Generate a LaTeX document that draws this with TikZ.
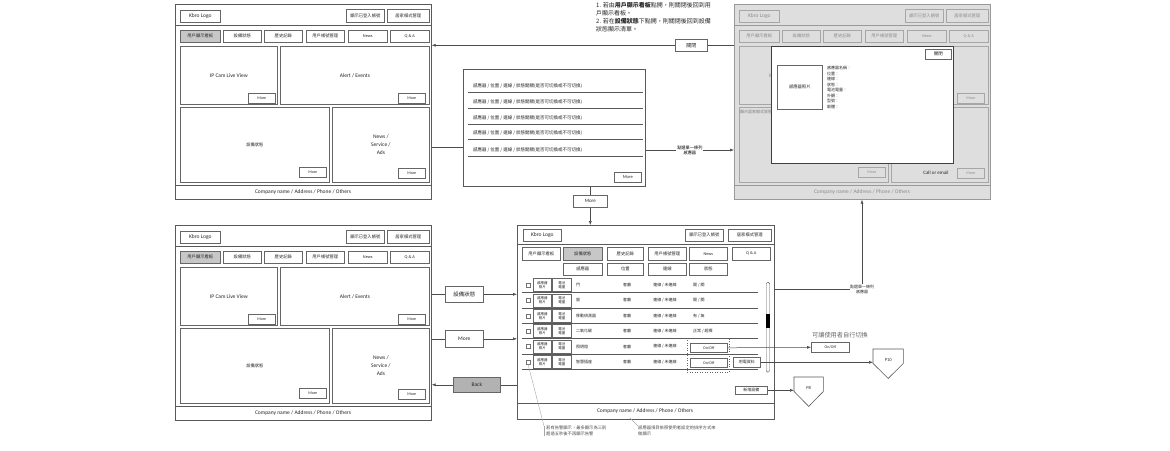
\documentclass[tikz,border=0pt]{standalone}
\usepackage{fontspec}
\setmainfont{Noto Sans CJK TC}
\newfontfamily\lat{Carlito}
\usetikzlibrary{arrows.meta}

\newcommand\fsz[2]{\fontsize{#1}{#2}\selectfont}

\tikzset{
  frame/.style={draw=black!65, fill=white, line width=0.7pt, anchor=north west, inner sep=0pt},
  rule/.style={draw=black!65, line width=0.6pt},
  btn/.style={draw=black!60, fill=white, line width=0.6pt, anchor=north west, inner sep=0pt, text=black!85, font=\fsz{4.3}{5}},
  tabon/.style={fill=black!22},
  panel/.style={draw=black!60, fill=white, line width=0.8pt, anchor=north west, inner sep=0pt, align=center, text=black!85, font=\lat\fsz{5.5}{8}},
  lbl/.style={inner sep=0pt, text=black!85, font=\fsz{5.5}{7}},
  cell/.style={inner sep=0pt, text=black!85, font=\fsz{4}{5}},
  conn/.style={draw=black!70, line width=0.5pt},
  dimmed/.style={
    frame/.append style={fill=black!13, draw=black!40},
    rule/.append style={draw=black!40},
    btn/.append style={fill=black!13, draw=black!35, text=black!45},
    tabon/.append style={fill=black!13},
    panel/.append style={fill=black!13, draw=black!35, text=black!45},
    lbl/.append style={text=black!45}},
}

% one dashboard screen: name prefix, left, top, extra options
\newcommand\kbroscreen[4]{%
  \begin{scope}[shift={(#2,#3)}, #4]
    \node[frame, minimum width=256, minimum height=195] (#1-outer) at (0,0) {};
    \draw[rule] (0,21) -- (256,21);
    \draw[rule] (0,181) -- (256,181);
    \node[btn, font=\lat\fsz{5.5}{6}, minimum width=40, minimum height=12] (#1-logo) at (5,6) {Kbro Logo};
    \node[btn, minimum width=38, minimum height=13] (#1-acct) at (171,5) {顯示已登入帳號};
    \node[btn, minimum width=42, minimum height=13] (#1-home) at (212,5) {居家模式管理};
    \node[btn, tabon, minimum width=40, minimum height=12] (#1-tab1) at (5,26) {用戶顯示看板};
    \foreach \tx/\tw/\tn [count=\i from 2] in {48/38/設備狀態,89/38/歷史記錄,131/38/用戶帳號管理,173/39/{\lat News},215/39/{\lat Q \& A}}
      \node[btn, minimum width=\tw, minimum height=12] (#1-tab\i) at (\tx,26) {\tn};
    \node[panel, minimum width=97, minimum height=58] (#1-cam) at (5,42) {IP Cam Live View};
    \node[panel, minimum width=149, minimum height=58] (#1-alert) at (105,42) {Alert / Events};
    \node[panel, font=\fsz{4.3}{5}, minimum width=149, minimum height=75] (#1-dev) at (5,103) {設備狀態};
    \node[panel, minimum width=97, minimum height=75] (#1-news) at (157,103) {News /\\Service /\\Ads};
    \foreach \mx/\my [count=\i] in {73/89,223/89,124/163,223/164}
      \node[btn, font=\lat\fsz{4}{5}, minimum width=27, minimum height=10] (#1-more\i) at (\mx,\my) {More};
    \node[lbl, font=\lat\fsz{5.5}{7}] (#1-foot) at (128,188) {Company name / Address / Phone / Others};
  \end{scope}}

\begin{document}
\begin{tikzpicture}[x=1pt, y=-1pt, >={Latex[length=4pt,width=3pt]}]
  \useasboundingbox (0,0) rectangle (1170,450);

  % the three dashboard screens
  \kbroscreen{a}{175}{4}{}
  \kbroscreen{b}{175}{225}{}
  \kbroscreen{c}{734}{4}{dimmed}

  % sensor detail popup over screen c
  \node[lbl, font=\fsz{4}{5}, text=black!50, anchor=north west] (c-homemode) at (740,110) {顯示居家模式狀態};
  \node[lbl, font=\lat\fsz{5}{6}] (c-call) at (936,173) {Call or email};
  \node[frame, draw=black!75, minimum width=182, minimum height=117] (pop) at (771,46) {};
  \node[btn, font=\fsz{4.5}{5}, minimum width=26, minimum height=10] (pop-close) at (925,49) {關閉};
  \node[panel, font=\fsz{4.3}{5}, line width=0.6pt, minimum width=45, minimum height=44] (pop-photo) at (777,65) {感應器照片};
  \node[cell, anchor=north west, align=left, font=\fsz{4}{5.5}] (pop-info) at (827,66) {感應器名稱：\\位置：\\連線：\\狀態：\\電池電量：\\外觀：\\型號：\\韌體：};

  % sensor list popup
  \node[frame, minimum width=182, minimum height=117] (list) at (463,69) {};
  \foreach \ly [count=\i] in {86,102,118,133,150} {
    \node[cell, anchor=west, font=\fsz{4.5}{5}] (list-r\i) at (473,\ly) {感應器 / 位置 / 連線 / 狀態開關(是否可切換或不可切換)};
    \draw[rule] (468,{\ly+6.5}) -- (643,{\ly+6.5});
  }
  \node[btn, font=\lat\fsz{4.5}{5}, minimum width=27, minimum height=10] (list-more) at (614,172) {More};

  % device status screen
  \node[frame, minimum width=257, minimum height=194] (d-outer) at (517,225) {};
  \draw[rule] (517,244) -- (774,244);
  \draw[rule] (517,403) -- (774,403);
  \node[btn, font=\lat\fsz{5.5}{6}, minimum width=38, minimum height=12] (d-logo) at (523,229) {Kbro Logo};
  \node[btn, minimum width=38, minimum height=12] (d-acct) at (685,229) {顯示已登入帳號};
  \node[btn, minimum width=43, minimum height=12] (d-home) at (728,229) {居家模式管理};
  \node[btn, tabon, minimum width=39, minimum height=13] (d-tab2) at (563,247) {設備狀態};
  \foreach \tx/\tw/\tn [count=\i] in {522/38/用戶顯示看板,607/36/歷史記錄,648/38/用戶帳號管理,689/38/{\lat News},732/38/{\lat Q \& A}}
    \node[btn, minimum width=\tw, minimum height=13] (d-tab-\i) at (\tx,247) {\tn};
  \foreach \tx/\tw/\tn [count=\i] in {563/39/感應器,607/36/位置,648/38/連線,689/38/狀態}
    \node[btn, minimum width=\tw, minimum height=12] (d-sub\i) at (\tx,263) {\tn};
  \foreach \nm/\st [count=\i from 0, evaluate=\i as \ry using 285+15.4*\i] in
      {門/{開 / 關},窗/{開 / 關},移動偵測器/{有 / 無},二氧化碳/{正常 / 超標},照明燈/{},智慧插座/{}} {
    \node[draw=black!55, line width=0.35pt, minimum size=4, inner sep=0pt] (cb\i) at (528,\ry) {};
    \node[btn, anchor=west, align=center, font=\fsz{3.5}{4}, line width=0.8pt, minimum width=18, minimum height=13] (ph\i) at (533,\ry) {感應器\\照片};
    \node[btn, anchor=west, align=center, font=\fsz{3.5}{4}, line width=0.8pt, minimum width=19, minimum height=13] (bat\i) at (552,\ry) {電池\\電量};
    \node[cell, anchor=west] (nm\i) at (576,\ry) {\nm};
    \node[cell] (loc\i) at (627,\ry) {客廳};
    \node[cell] (link\i) at (665,\ry) {連線 / 未連線};
    \node[cell, anchor=west] (st\i) at (693,\ry) {\st};
    \draw[rule] (522,{\ry+7.5}) -- (758,{\ry+7.5});
  }
  \draw[rule, line width=1pt] (522,338.7) -- (758,338.7);
  \node[draw=black!60, dotted, line width=0.5pt, anchor=north west, inner sep=0pt, minimum width=42, minimum height=34] (on-group) at (687,338) {};
  \node[btn, font=\lat\fsz{4}{5}, minimum width=37, minimum height=9] (on4) at (690,343) {On/Off};
  \node[btn, font=\lat\fsz{4}{5}, minimum width=37, minimum height=9] (on5) at (690,358) {On/Off};
  \node[btn, font=\fsz{4}{5}, minimum width=27, minimum height=10] (power) at (733,357) {用電資料};
  \node[draw=black!65, rounded corners=1.5pt, anchor=north west, inner sep=0pt, minimum width=3.5, minimum height=90] (scroll) at (766,282) {};
  \node[fill=black, anchor=north west, inner sep=0pt, minimum width=3.5, minimum height=14] (thumb) at (766,314) {};
  \node[btn, font=\fsz{4}{5}, minimum width=32, minimum height=8] (add) at (735,386) {新增設備};
  \node[lbl, font=\lat\fsz{5.5}{7}] (d-foot) at (645,411) {Company name / Address / Phone / Others};

  % close popup
  \node[lbl, anchor=north west, align=left, font=\fsz{6}{8}] (hint-close) at (596,2) {1. 若由\textbf{用戶顯示看板}點開，則關閉後回到用\\戶顯示看板。\\2. 若在\textbf{設備狀態}下點開，則關閉後回到設備\\狀態顯示清單。};
  \node[btn, font=\fsz{5}{6}, minimum width=32, minimum height=12] (close) at (675,39) {關閉};
  \draw[conn] (c-outer.west |- close) -- (close);
  \draw[conn,->] (close) -- (close -| a-outer.east);

  % list popup links
  \draw[conn, double, double distance=5pt] (a-outer.east |- list-r5) -- (list.west |- list-r5);
  \draw[conn,->] (list.east |- list-r5) -- (list-r5 -| c-outer.west)
    node[midway, fill=white, inner sep=1pt, align=center, font=\fsz{4.2}{5}] (pick-a) {點選單一條列\\感應器};
  \node[btn, font=\lat\fsz{5}{6}, minimum width=34, minimum height=12] (more-mid) at (573,195) {More};
  \draw[conn] (list.south -| more-mid) -- (more-mid);
  \draw[conn,->] (more-mid) -- (more-mid |- d-outer.north);

  % links between screen b and device screen
  \node[btn, font=\fsz{5.5}{6}, minimum width=38, minimum height=16] (go-dev) at (445,286) {設備狀態};
  \node[btn, font=\lat\fsz{5.5}{6}, minimum width=38, minimum height=17] (go-more) at (445,330) {More};
  \node[btn, fill=black!30, font=\lat\fsz{5.5}{6}, minimum width=47, minimum height=15] (go-back) at (453,377) {Back};
  \draw[conn] (b-outer.east |- go-dev) -- (go-dev);
  \draw[conn,->] (go-dev) -- (go-dev -| d-outer.west);
  \draw[conn] (b-outer.east |- go-more) -- (go-more);
  \draw[conn,->] (go-more) -- (go-more -| d-outer.west);
  \draw[conn] (d-outer.west |- go-back) -- (go-back);
  \draw[conn,->] (go-back) -- (go-back -| b-outer.east);

  % device screen to detail popup
  \node[cell, align=center] (pick-b) at (862,289) {點選單一條列\\感應器};
  \draw[conn] (d-outer.east |- pick-b) -- (pick-b.west);
  \draw[conn,->] (pick-b.north) -- (pick-b.north |- c-outer.south);

  % switch and off-page links
  \node[lbl, font=\fsz{6.2}{7}, text=black!60] (hint-switch) at (840,335) {可讓使用者自行切換};
  \node[btn, font=\lat\fsz{4}{5}, minimum width=38, minimum height=10] (onoff-x) at (811,342) {On/Off};
  \draw[conn,->] (on4.east) -- (onoff-x.west);
  \node[cell, font=\lat\fsz{4.5}{5}, anchor=north west, minimum width=30, minimum height=22] (p10) at (873,349) {P10};
  \node[cell, font=\lat\fsz{4.5}{5}, anchor=north west, minimum width=29, minimum height=22] (p8) at (794,377) {P8};
  \foreach \p in {p10,p8}
    \draw[rule] (\p.north west) -- (\p.north east) -- ([yshift=8pt]\p.south east) -- ([yshift=-7pt]\p.south) -- ([yshift=8pt]\p.south west) -- cycle;
  \draw[conn,->] (power.east) -- (power.east -| p10.west);
  \draw[conn,->] (add.east) -- (add.east -| p8.west);

  % notes under the device screen
  \node[cell, anchor=north west, align=left, font=\fsz{4.3}{6}, text=black!70] (note-a) at (546,426) {若有告警顯示，最多顯示為三則\\超過五秒後不再顯示告警};
  \draw[black!35, line width=0.4pt] ([xshift=-2pt]note-a.north west) -- ([xshift=-2pt]note-a.south west);
  \draw[black!35, line width=0.4pt] (cb5.south) -- ([xshift=-2pt]note-a.north west);
  \coordinate (tip-b) at (630,418);
  \node[cell, anchor=north west, align=left, font=\fsz{4.3}{6}, text=black!70] (note-b) at (638,426) {感應器項目依照使用者設定的排序方式來\\做顯示};
  \draw[black!35, line width=0.4pt] (tip-b) -- (note-b.north west);
\end{tikzpicture}
\end{document}
